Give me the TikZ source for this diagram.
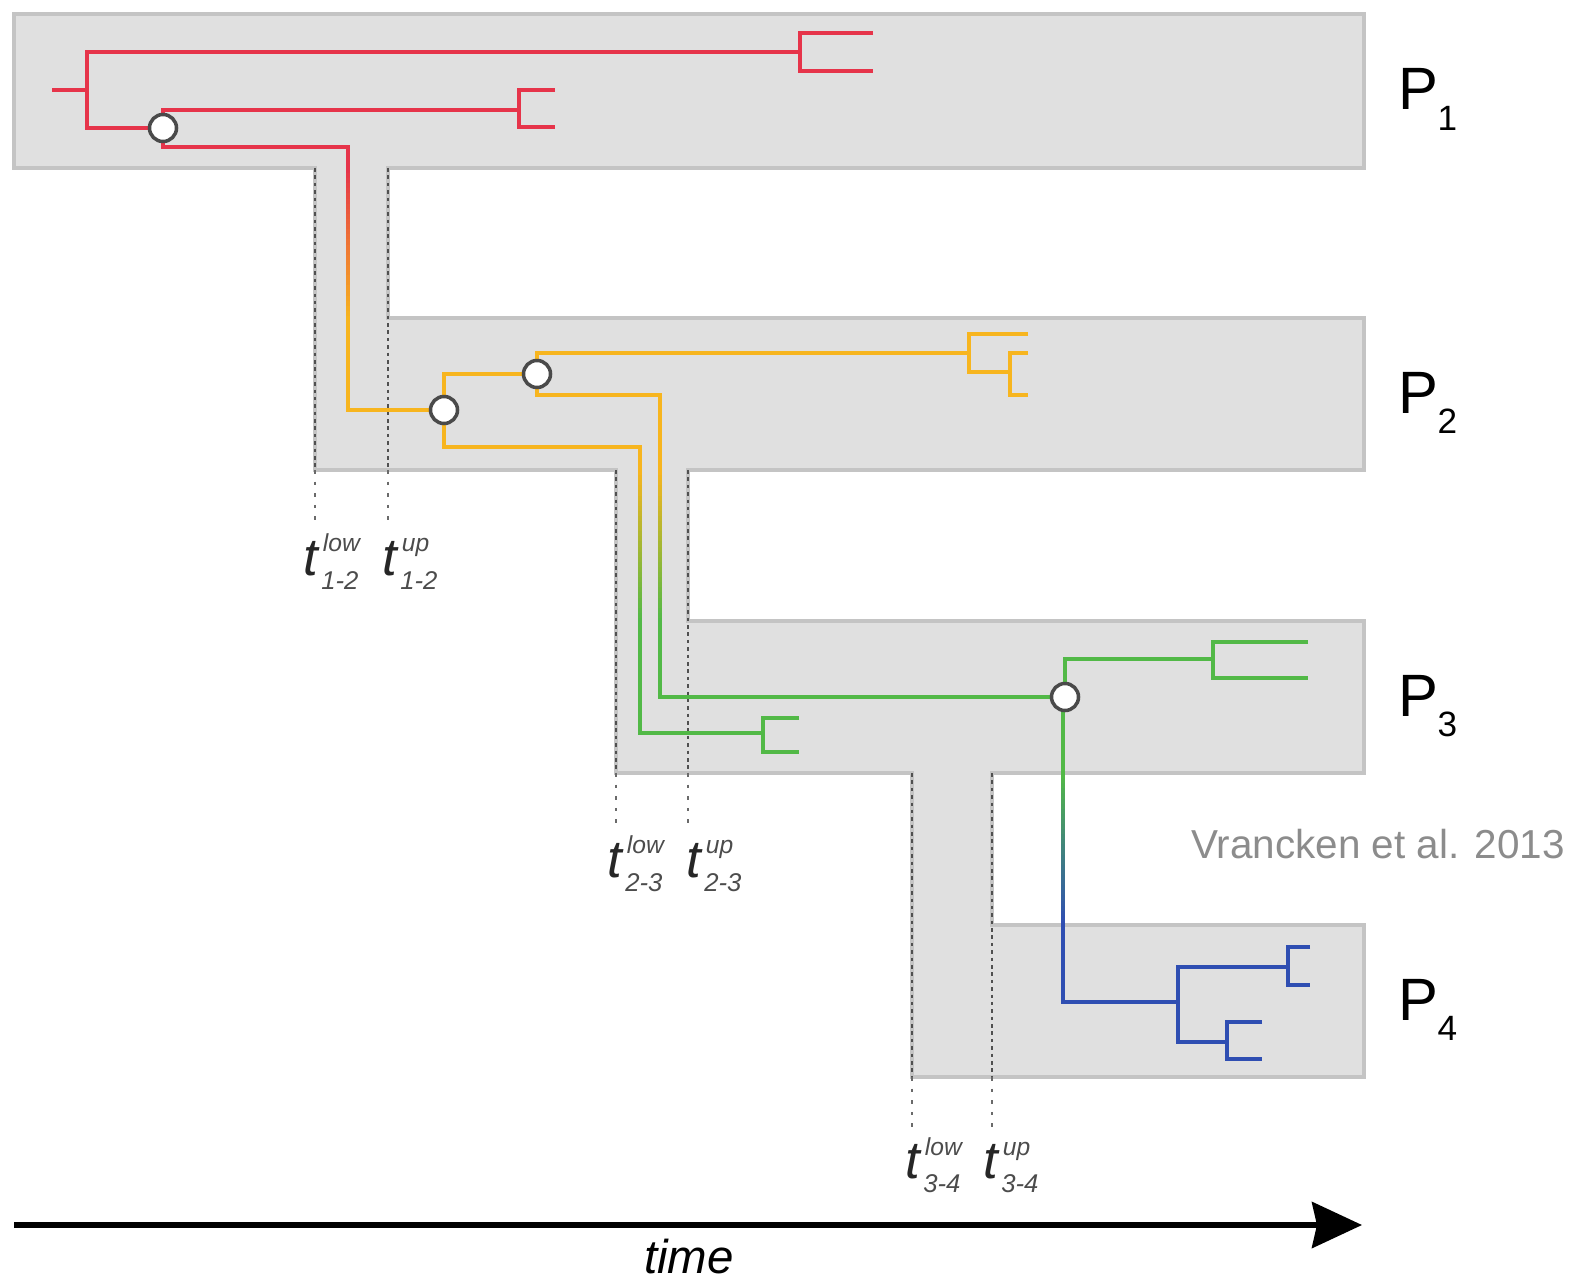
\documentclass[tikz,border=0pt]{standalone}
\usepackage{fontspec}
\setmainfont{Liberation Sans}
\usetikzlibrary{arrows.meta}

\definecolor{cRed}{HTML}{E6344A}
\definecolor{cOra}{HTML}{F7B51F}
\definecolor{cGrn}{HTML}{52B947}
\definecolor{cBlu}{HTML}{2F4EB2}
\definecolor{cBand}{HTML}{E0E0E0}
\definecolor{cEdge}{HTML}{C4C4C4}
\definecolor{cDash}{HTML}{505050}
\definecolor{cRing}{HTML}{4A4A4A}
\definecolor{cCredit}{HTML}{8C8C8C}

% window label: italic t with a superscript and a subscript
\newcommand{\winlabel}[2]{%
  {\fontsize{15}{15}\selectfont\itshape\textcolor{black!85}{t}%
   \makebox[0pt][l]{\kern0.45mm\raisebox{2.3mm}{\fontsize{7}{7}\selectfont\textcolor{black!70}{#1}}}%
   \makebox[0pt][l]{\kern0.3mm\raisebox{-1.4mm}{\fontsize{7.3}{7.3}\selectfont\textcolor{black!70}{#2}}}}}

\begin{document}
\begin{tikzpicture}[x=0.01cm, y=-0.01cm,
  br/.style={line width=1.4pt, line join=miter},
  redb/.style={br, draw=cRed},
  orab/.style={br, draw=cOra},
  grnb/.style={br, draw=cGrn},
  blub/.style={br, draw=cBlu},
  hub/.style={circle, fill=white, draw=cRing, line width=1pt, minimum size=0.27cm, inner sep=0pt},
  guidein/.style={draw=cDash, line width=0.75pt, dash pattern=on 1pt off 1.1pt},
  guideout/.style={draw=cDash!85, line width=0.7pt, dash pattern=on 1pt off 2.3pt},
  winlab/.style={inner sep=0pt, anchor=base west},
  pmain/.style={font=\fontsize{17}{17}\selectfont, inner sep=0pt},
  psub/.style={font=\fontsize{10}{10}\selectfont, inner sep=0pt}]

\useasboundingbox (0,0) rectangle (1573,1282);

% grey population bands joined by migration channels
\filldraw[fill=cBand, draw=cEdge, line width=0.9pt]
  (14,14) -- (1364,14) -- (1364,168) -- (388,168) -- (388,318) -- (1364,318)
  -- (1364,470) -- (688,470) -- (688,621) -- (1364,621) -- (1364,773)
  -- (992,773) -- (992,925) -- (1364,925) -- (1364,1077) -- (912,1077)
  -- (912,773) -- (616,773) -- (616,470) -- (315,470) -- (315,168)
  -- (14,168) -- cycle;

% time-window guides
\foreach \gx/\ga/\gb/\gc in {315/168/470/527, 388/168/470/527,
                            616/470/773/830, 688/470/773/830,
                            912/773/1077/1135, 992/773/1077/1135}{
  \coordinate (ga) at (\gx,\ga);
  \coordinate (gb) at (\gx,\gb);
  \coordinate (gc) at (\gx,\gc);
  \draw[guidein] (ga) -- (gb);
  \draw[guideout] (gb) -- (gc);
}

% coalescent hubs
\coordinate (d) at (163,128);
\coordinate (a) at (444,410);
\coordinate (b) at (537,374);
\coordinate (c) at (1065,697);

% migrating lineages change colour while crossing a channel
\foreach \mx/\my/\ca/\cb in {348/168/cRed/cOra, 640/470/cOra/cGrn,
                             660/470/cOra/cGrn, 1063/773/cGrn/cBlu}{
  \foreach \i in {0,...,29}{
    \pgfmathtruncatemacro{\pc}{100-\i*100/29}
    \draw[line width=1.4pt, draw=\ca!\pc!\cb]
      (\mx,\my+\i*5.1) -- (\mx,\my+\i*5.1+5.6);
  }
}

% population 1 (red)
\draw[redb] (52,90) -- (87,90);
\draw[redb] (d) -- (87,128) -- (87,52) -- (800,52);
\draw[redb] (873,33) -- (800,33) -- (800,71) -- (873,71);
\draw[redb] (d) -- (163,110) -- (519,110);
\draw[redb] (555,90) -- (519,90) -- (519,127) -- (555,127);
\draw[redb] (d) -- (163,147) -- (348,147) -- (348,169);

% population 2 (orange)
\draw[orab] (348,317) -- (348,410) -- (a);
\draw[orab] (a) -- (444,374) -- (b);
\draw[orab] (b) -- (537,353) -- (969,353);
\draw[orab] (1028,334) -- (969,334) -- (969,372) -- (1010,372);
\draw[orab] (1028,353) -- (1010,353) -- (1010,395) -- (1028,395);
\draw[orab] (b) -- (537,395) -- (660,395) -- (660,471);
\draw[orab] (a) -- (444,447) -- (640,447) -- (640,471);

% population 3 (green)
\draw[grnb] (640,619) -- (640,733) -- (763,733);
\draw[grnb] (799,718) -- (763,718) -- (763,752) -- (799,752);
\draw[grnb] (660,619) -- (660,697) -- (c);
\draw[grnb] (c) -- (1065,659) -- (1213,659);
\draw[grnb] (1308,642) -- (1213,642) -- (1213,678) -- (1308,678);
\draw[grnb] (1063,697) -- (1063,774);

% population 4 (blue)
\draw[blub] (1063,922) -- (1063,1002) -- (1178,1002);
\draw[blub] (1288,967) -- (1178,967) -- (1178,1042) -- (1227,1042);
\draw[blub] (1310,947) -- (1288,947) -- (1288,985) -- (1310,985);
\draw[blub] (1262,1022) -- (1227,1022) -- (1227,1059) -- (1262,1059);

% hub markers
\node[hub] (hd) at (d) {};
\node[hub] (ha) at (a) {};
\node[hub] (hb) at (b) {};
\node[hub] (hc) at (c) {};

% population names
\foreach \py/\pn in {91/1, 394/2, 697/3, 1001/4}{
  \node[pmain, anchor=base west] (P\pn) at (1398,\py+19) {P};
  \node[psub, anchor=base west] (Ps\pn) at (1437,\py+39) {\pn};
}

% time-window labels
\foreach \lx/\ly/\ls/\lb/\ln in {303/575/low/1-2/l12, 382/575/up/1-2/u12,
                                 607/877/low/2-3/l23, 686/877/up/2-3/u23,
                                 905/1178/low/3-4/l34, 983/1178/up/3-4/u34}{
  \node[winlab] (t\ln) at (\lx,\ly) {\winlabel{\ls}{\lb}};
}

% credit
\node[font=\fontsize{11.5}{11.5}\selectfont, text=cCredit, inner sep=0pt, anchor=base] (cred) at (1378,858) {Vrancken et al. 2013};

% time axis
\coordinate (ts) at (14,1225);
\coordinate (te) at (1362,1225);
\draw[line width=1.5pt, -{Stealth[length=0.5cm, width=0.46cm, inset=0.05cm]}] (ts) -- (te);
\node[font=\fontsize{13.5}{13.5}\selectfont\itshape, inner sep=0pt, anchor=base] (time) at (689,1273) {time};

\end{tikzpicture}
\end{document}
